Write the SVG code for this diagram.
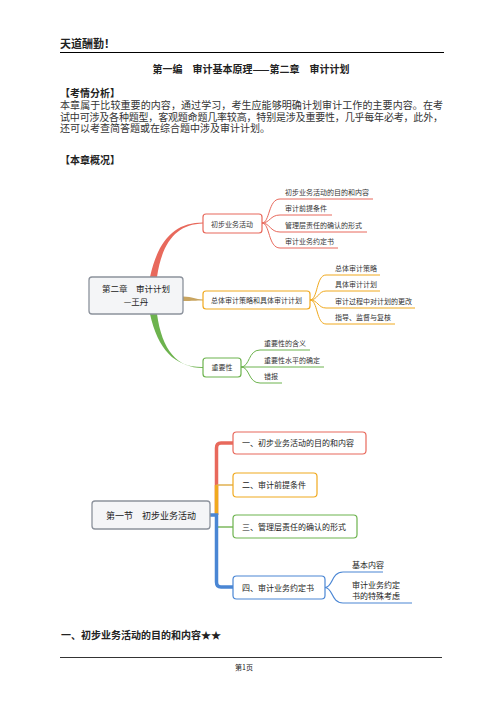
<svg xmlns="http://www.w3.org/2000/svg" width="504" height="714" viewBox="0 0 504 714">
<style>
text{font-family:"Noto Sans CJK SC","Liberation Sans",sans-serif;fill:#222}
.b{font-weight:bold}
.p{font-size:10px;fill:#333;font-family:"Liberation Serif","Noto Sans CJK SC",serif}
.h{font-family:"Liberation Sans","Noto Sans CJK SC",sans-serif}
.m{font-size:7px;fill:#333}
.n{font-size:8px;fill:#222}
.box{fill:#fff;stroke-width:1.2}
.root{fill:#f4f5f7;stroke:#8c929c;stroke-width:1.3}
.leaf{fill:none;stroke-width:1}
.red{stroke:#e8695c}.org{stroke:#f0a91e}.grn{stroke:#6db34e}.blu{stroke:#4a86d4}
</style>
<rect width="504" height="714" fill="#fff"/>
<g id="header">
<text x="60" y="48" class="b" font-size="11">天道酬勤！</text>
<line x1="60" y1="52.5" x2="444" y2="52.5" stroke="#000" stroke-width="1"/>
<text x="251" y="73" class="b" font-size="10" text-anchor="middle">第一编　审计基本原理——第二章　审计计划</text>
<text x="60" y="97" class="b h" font-size="10">【考情分析】</text>
<text x="60" y="109" class="p" textLength="383" lengthAdjust="spacing">本章属于比较重要的内容，通过学习，考生应能够明确计划审计工作的主要内容。在考</text>
<text x="60" y="120.5" class="p" textLength="383" lengthAdjust="spacing">试中可涉及各种题型，客观题命题几率较高，特别是涉及重要性，几乎每年必考，此外，</text>
<text x="60" y="132" class="p">还可以考查简答题或在综合题中涉及审计计划。</text>
<text x="60" y="164" class="b" font-size="10">【本章概况】</text>
</g>
<g id="connectors1">
<path d="M150,277 C158,240 175,222.5 203,222.5 L203,223.5 C177,224 162,242 157,277 Z" fill="#e8695c"/>
<path d="M150,314 C158,350 175,367.5 203,367 L203,368 C177,368 162,350 157,314 Z" fill="#6db34e"/>
<path d="M183,296.5 C193,296.5 195,299.5 203,299.5 L203,300.5 C195,300.5 193,301 183,301 Z" fill="#c9a560"/>
<g class="leaf red">
<path d="M262,223 C270,223 268,199 280,199 L373,199"/>
<path d="M262,223 C270,223 270,215 280,215 L332,215"/>
<path d="M262,223 C270,223 270,232 280,232 L367,232"/>
<path d="M262,223 C270,223 268,248 280,248 L338,248"/>
</g>
<g class="leaf org">
<path d="M310,300 C318,300 316,275 326,275 L380,275"/>
<path d="M310,300 C318,300 318,291 326,291 L380,291"/>
<path d="M310,300 C318,300 318,308 326,308 L415,308"/>
<path d="M310,300 C318,300 316,324 326,324 L395,324"/>
</g>
<g class="leaf grn">
<path d="M241,367 C250,367 248,350 260,350 L310,350"/>
<path d="M241,367 L324,367"/>
<path d="M241,367 C250,367 248,383 260,383 L282,383"/>
</g>
</g>
<g id="root1">
<rect x="89" y="277" width="94" height="37" rx="3" class="root"/>
<text x="136" y="292" font-size="8.5" text-anchor="middle">第二章　审计计划</text>
<text x="136" y="304.5" font-size="8.5" text-anchor="middle">—王丹</text>
</g>
<g id="b1">
<rect x="203" y="214" width="59" height="19" rx="3" class="box red"/>
<text x="211" y="226.5" class="m">初步业务活动</text>
</g>
<g id="b2">
<rect x="203" y="291" width="107" height="18" rx="3" class="box org"/>
<text x="211" y="302.5" class="m">总体审计策略和具体审计计划</text>
</g>
<g id="b3">
<rect x="203" y="358" width="38" height="19" rx="3" class="box grn"/>
<text x="222" y="370" class="m" text-anchor="middle">重要性</text>
</g>
<g id="leaves1">
<text x="285" y="195" class="m">初步业务活动的目的和内容</text>
<text x="285" y="211" class="m">审计前提条件</text>
<text x="285" y="228" class="m">管理层责任的确认的形式</text>
<text x="285" y="244" class="m">审计业务约定书</text>
<text x="335" y="271" class="m">总体审计策略</text>
<text x="335" y="287" class="m">具体审计计划</text>
<text x="335" y="304" class="m">审计过程中对计划的更改</text>
<text x="335" y="320" class="m">指导、监督与复核</text>
<text x="264" y="346" class="m">重要性的含义</text>
<text x="264" y="363" class="m">重要性水平的确定</text>
<text x="264" y="379" class="m">错报</text>
</g>
<g id="connectors2" fill="none">
<path d="M233,443 L221,443 Q216.5,443 216.5,448 L216.5,515" stroke="#e8695c" stroke-width="3.5"/>
<path d="M216.5,485 L216.5,515" stroke="#f0a91e" stroke-width="3.5"/>
<path d="M216.5,485 L233,485" stroke="#e0b050" stroke-width="1.5"/>
<path d="M216.5,527 L233,527" stroke="#7cb85e" stroke-width="1.5"/>
<path d="M210,515 L216.5,515 L216.5,582 Q216.5,587 221,587 L233,587" stroke="#4a86d4" stroke-width="3.5"/>
<path d="M325,587.5 C333,587.5 331,572 343,572 L383,572" stroke="#4a86d4" stroke-width="1.2"/>
<path d="M325,587.5 C333,587.5 331,603 343,603 L412,603" stroke="#4a86d4" stroke-width="1.2"/>
</g>
<g id="root2">
<rect x="92" y="501" width="118" height="28" rx="3" class="root"/>
<text x="151" y="519" font-size="9" text-anchor="middle">第一节　初步业务活动</text>
</g>
<g id="c1">
<rect x="233" y="432" width="133" height="22" rx="3.5" class="box red" stroke-width="1.5"/>
<text x="242" y="446" class="n">一、初步业务活动的目的和内容</text>
</g>
<g id="c2">
<rect x="233" y="473" width="84" height="24" rx="3.5" class="box org" stroke-width="1.5"/>
<text x="242" y="488" class="n">二、审计前提条件</text>
</g>
<g id="c3">
<rect x="233" y="515" width="124" height="23" rx="3.5" class="box grn" stroke-width="1.5"/>
<text x="242" y="529.5" class="n">三、管理层责任的确认的形式</text>
</g>
<g id="c4">
<rect x="233" y="576" width="92" height="23" rx="3.5" class="box blu" stroke-width="1.5"/>
<text x="242" y="590.5" class="n">四、审计业务约定书</text>
</g>
<g id="leaves2">
<text x="352" y="568" class="n">基本内容</text>
<text x="352" y="588" class="n">审计业务约定</text>
<text x="352" y="599" class="n">书的特殊考虑</text>
</g>
<g id="footer">
<text x="61" y="639" class="b" font-size="10">一、初步业务活动的目的和内容★★</text>
<line x1="60" y1="657.5" x2="442" y2="657.5" stroke="#000" stroke-width="0.8"/>
<text x="244" y="669.5" font-size="7" text-anchor="middle" fill="#444">第1页</text>
</g>
</svg>
